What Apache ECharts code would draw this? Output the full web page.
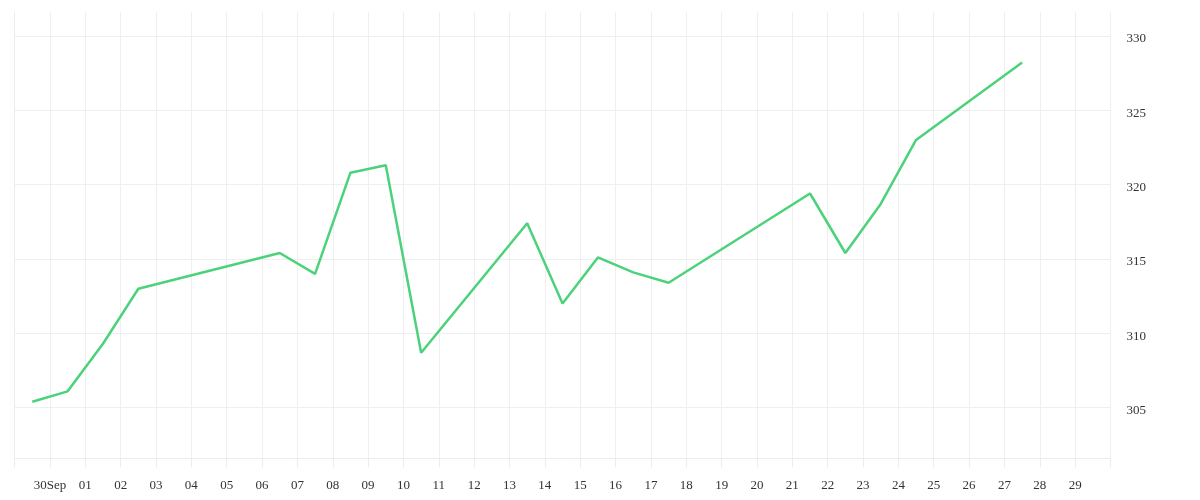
<!DOCTYPE html>
<html>
<head>
<meta charset="utf-8">
<script src="https://cdn.jsdelivr.net/npm/echarts@6/dist/echarts.min.js"></script>
<style>
html,body{margin:0;padding:0;background:#fff;}
#chart{width:1200px;height:500px;}
</style>
</head>
<body>
<div id="chart"></div>
<script>
// Tick labels at each day boundary (index = tick position on the day axis)
const tickLabels = ['', '30Sep', '01', '02', '03', '04', '05', '06', '07', '08', '09', '10',
  '11', '12', '13', '14', '15', '16', '17', '18', '19', '20', '21', '22', '23', '24', '25',
  '26', '27', '28', '29', ''];
// Trading days (day offset from the first day boundary) and values
const days = [0, 1, 2, 3, 7, 8, 9, 10, 11, 14, 15, 16, 17, 18, 22, 23, 24, 25, 28];
const values = [305.4, 306.1, 309.3, 313.0, 315.4, 314.0, 320.8, 321.3, 308.7, 317.4,
  312.0, 315.1, 314.1, 313.4, 319.4, 315.4, 318.7, 323.0, 328.2];
const yTicks = [305, 310, 315, 320, 325, 330];

const chart = echarts.init(document.getElementById('chart'));
const font = 'Liberation Serif';
chart.setOption({
  backgroundColor: '#ffffff',
  animation: false,
  grid: { left: 14.6, right: 89.5, top: 12, bottom: 41.7 },
  xAxis: {
    type: 'value',
    min: 0,
    max: tickLabels.length - 1,
    interval: 1,
    axisLine: { show: true, lineStyle: { color: '#ececec', width: 1 } },
    axisTick: { show: true, length: 9, lineStyle: { color: '#ececec', width: 1 } },
    splitLine: { show: true, lineStyle: { color: '#efefef', width: 1 } },
    axisLabel: {
      margin: 21,
      color: '#333',
      fontFamily: font,
      fontSize: 13,
      showMinLabel: true,
      showMaxLabel: true,
      hideOverlap: false,
      formatter: v => tickLabels[Math.round(v)] || ''
    }
  },
  yAxis: {
    type: 'value',
    position: 'right',
    min: 301.6,
    max: 331.6,
    axisLine: { show: true, lineStyle: { color: '#ececec', width: 1 } },
    axisTick: { show: false, customValues: yTicks },
    splitLine: { show: true, lineStyle: { color: '#efefef', width: 1 } },
    axisLabel: {
      customValues: yTicks,
      margin: 16,
      color: '#333',
      fontFamily: font,
      fontSize: 13,
      formatter: v => '{a|' + v + '}',
      rich: { a: { padding: [6, 0, 0, 0], color: '#333', fontFamily: font, fontSize: 13 } }
    }
  },
  series: [{
    type: 'line',
    data: days.map((d, i) => [d + 0.5, values[i]]),
    showSymbol: false,
    symbol: 'none',
    lineStyle: { color: '#4bd27b', width: 2.5 },
    itemStyle: { color: '#4bd27b' }
  }]
});
</script>
</body>
</html>
